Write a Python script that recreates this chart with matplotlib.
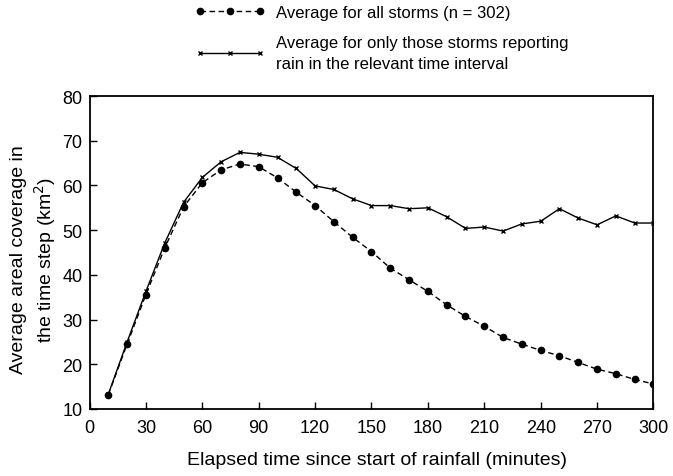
import matplotlib
matplotlib.use("Agg")
import matplotlib.pyplot as plt
import numpy as np

plt.rcParams['font.family'] = ['Liberation Sans', 'DejaVu Sans']

minutes = list(range(10, 301, 10))
all_storms = [13.2, 24.5, 35.6, 46.0, 55.2, 60.6, 63.5, 64.8, 64.2, 61.7,
              58.5, 55.5, 51.9, 48.4, 45.2, 41.5, 38.9, 36.3, 33.3, 30.7,
              28.5, 26.0, 24.5, 23.1, 21.9, 20.4, 18.9, 17.9, 16.6, 15.6]
rain_storms = [13.3, 25.0, 36.3, 47.1, 56.2, 61.8, 65.3, 67.4, 67.0, 66.3,
               63.8, 59.9, 59.1, 57.0, 55.5, 55.5, 54.8, 55.0, 53.0, 50.4,
               50.7, 49.8, 51.4, 52.0, 54.8, 52.7, 51.2, 53.2, 51.6, 51.6]
x_ticks = list(range(0, 301, 30))
y_ticks = list(range(10, 81, 10))
label_all = "Average for all storms (n = 302)"
label_rain = "Average for only those storms reporting\nrain in the relevant time interval"

fig = plt.figure(figsize=(6.73, 4.77), dpi=100)
ax = fig.add_axes([0.133, 0.1405, 0.838, 0.656])

l1, = ax.plot(minutes, all_storms, color='black', linestyle=(0, (4, 2.5)), linewidth=1.0,
              marker='o', markersize=4.5, markerfacecolor='black', markeredgecolor='black')
l2, = ax.plot(minutes, rain_storms, color='black', linestyle='-', linewidth=1.0,
              marker='x', markersize=3.5, markeredgewidth=1.0)

ax.set_xlim(0, 300)
ax.set_ylim(10, 80)
ax.set_xticks(x_ticks)
ax.set_yticks(y_ticks)
ax.tick_params(direction='in', labelsize=13, length=5, width=1)
ax.tick_params(axis='x', pad=7)
ax.tick_params(axis='y', pad=5)
for s in ax.spines.values():
    s.set_linewidth(1.3)

ax.set_xlabel("Elapsed time since start of rainfall (minutes)", fontsize=14, va='center')
ax.xaxis.set_label_coords(0.51, -0.16)
ax.set_ylabel("Average areal coverage in\nthe time step (km$^2$)", fontsize=14, va='center',
              linespacing=1.25)
ax.yaxis.set_label_coords(-0.099, 0.48)

leg = fig.legend([l1, l2], [label_all, label_rain], loc='upper left',
                 bbox_to_anchor=(0.2745, 1.0084), frameon=False, fontsize=12, borderpad=0.1,
                 handlelength=4.2, numpoints=3, labelspacing=0.93, handletextpad=0.7)
for t in leg.get_texts():
    t.set_linespacing(1.45)

fig.savefig("out.png", dpi=100)
